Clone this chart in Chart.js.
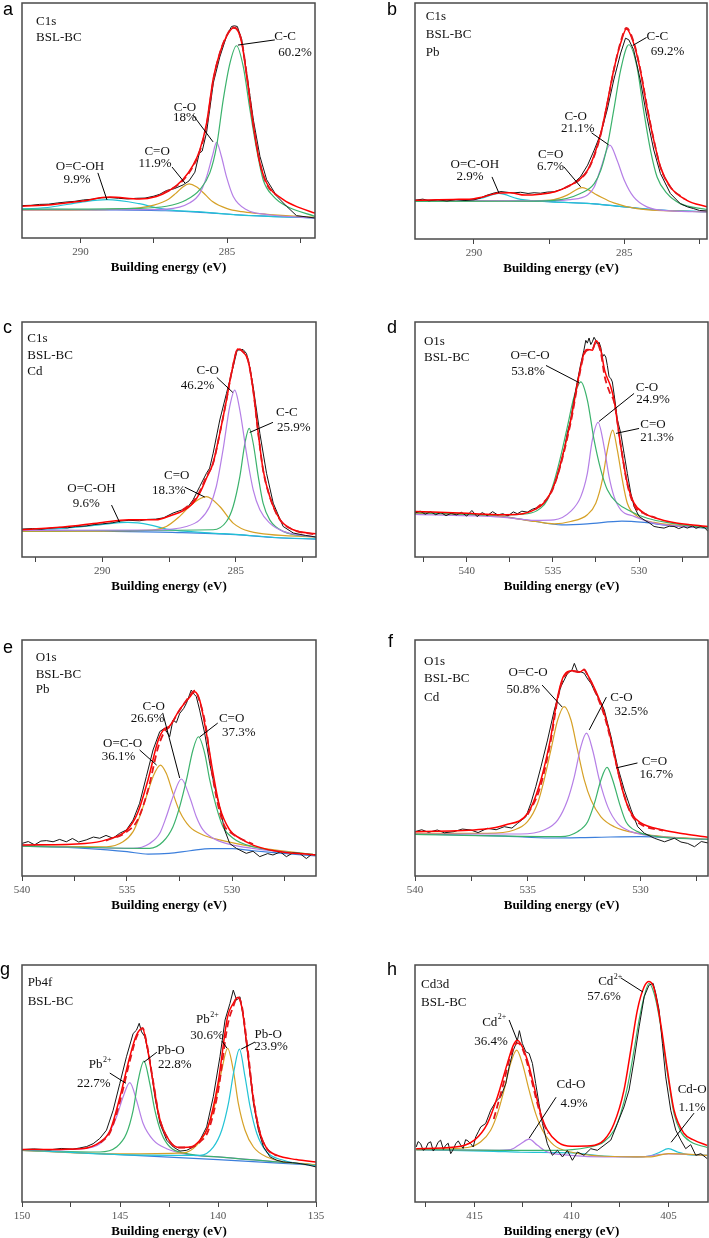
<!DOCTYPE html>
<html>
<head>
<meta charset="utf-8">
<script src="https://cdn.jsdelivr.net/npm/chart.js@4.4.1/dist/chart.umd.min.js"></script>
<style>
  html, body { margin: 0; padding: 0; background: #fff; overflow: hidden; }
  #page { position: relative; width: 709px; height: 1238px; overflow: hidden; }
  .cell { position: absolute; }
  .tag { position: absolute; font: 18px "Liberation Sans", Arial, sans-serif; line-height: 18px; color: #000; }
</style>
</head>
<body>
<div id="page"></div>
<script>
// ---------- data: [binding energy (eV), intensity (0 = frame bottom, 100 = frame top)] ----------

// a: C1s BSL-BC
const aTicks = [282.5, 285, 287.5, 290];
const aRaw = [[292,13.8],[291.7,13.9],[291.4,14.3],[291.1,14.4],[290.8,14.9],[290.5,15.3],[290.2,15.6],[289.9,16.2],[289.6,16.5],[289.3,17.1],[289.0,17.2],[288.7,16.9],[288.4,16.6],[288.1,16.9],[287.8,17.0],[287.5,17.8],[287.3,18.6],[287.07,20.2],[286.8,21.0],[286.5,22.6],[286.3,24.3],[286.1,28],[285.95,36],[285.85,37],[285.7,45],[285.47,66],[285.25,77],[285.02,85.8],[284.85,90],[284.75,90.3],[284.65,90],[284.5,84.4],[284.33,70],[284.1,50],[283.88,34.8],[283.65,24.8],[283.3,17.7],[282.97,13.5],[282.63,9.5],[282.3,9.0],[282,8.5]];
const aFit = [[292,13.5],[291,14.2],[290,15.6],[289,17.4],[288,16.6],[287.41,17.7],[287,19.9],[286.5,25],[286.16,31],[285.93,37.5],[285.7,48.9],[285.47,68],[285.25,78.7],[285.02,85.8],[284.79,89.4],[284.68,88.9],[284.5,83],[284.33,68.8],[284.1,47.5],[283.88,31.9],[283.65,23.4],[283.08,16.3],[282.51,12.8],[282,10.6]];
const aFitDash = [[287.2,19],[286.8,21.5],[286.5,24.6],[286.16,30.5],[285.93,37],[285.7,48],[285.47,67],[285.25,78.5],[285.02,86],[284.79,89.6],[284.68,89.2],[284.5,83.5],[284.33,69.5],[284.1,48],[283.88,32],[283.65,23],[283.3,18]];
const aCC = [[292,12.2],[288.2,12.6],[287.07,13.5],[286.38,16.3],[285.93,20.6],[285.59,27.7],[285.36,39],[285.13,59],[284.9,74.5],[284.68,81.8],[284.45,73],[284.22,54.6],[283.99,37.6],[283.77,24.8],[283.42,17.7],[282.97,13.5],[282,9.2]];
const aCO = [[292,12.0],[288,12.1],[287.07,12.3],[286.27,15],[285.93,19],[285.7,26],[285.5,35],[285.36,40.7],[285.2,35],[285.02,26],[284.79,17.7],[284.33,12],[283.65,10],[282,8.5]];
const aCeqO = [[292,11.8],[289,12.2],[288,12.8],[287.5,14.0],[287,16.5],[286.75,19.0],[286.5,21.8],[286.3,23.0],[286.05,21.8],[285.75,18.5],[285.5,15.5],[285,12.5],[284.5,11.2],[284,10.5],[283,9.5],[282,8.8]];
const aOCOH = [[292,12.3],[291,13.2],[290,15.2],[289.1,16.3],[288,14.6],[287.4,12.8],[287,12.0],[286,11.2],[285,10.2],[284,9.4],[282,8.6]];
const aBg = [[292,12.3],[289.5,12.0],[287.1,11.6],[286,11.0],[285.5,10.6],[284.7,9.9],[283.5,9.2],[282,8.5]];

// b: C1s BSL-BC Pb
const bTicks = [282.5, 285, 287.5, 290];
const bRaw = [[291.96,16.4],[291.7,16.9],[291.5,16.2],[291.2,16.6],[290.9,16.1],[290.6,16.7],[290.3,16.3],[290,16.6],[289.8,17.3],[289.6,18.4],[289.33,19.5],[289.1,20.1],[288.9,19.8],[288.7,19.5],[288.45,19.8],[288.2,19.3],[288,19.6],[287.79,19.4],[287.55,19.9],[287.34,20.0],[287.1,21.0],[286.9,22.1],[286.7,23.5],[286.46,26.3],[286.22,31.3],[286.0,37.7],[285.78,44.8],[285.57,54.7],[285.35,67.4],[285.12,78.8],[284.96,85.1],[284.85,84.4],[284.69,80.2],[284.47,67.4],[284.25,51.8],[284.02,37.7],[283.8,27.8],[283.47,19.3],[283.14,15.0],[282.9,13.6],[282.7,12.9],[282.5,12.1],[282.25,11.9]];
const bFit = [[292,16.4],[290.5,16.8],[290,17.1],[289.5,18.5],[289.2,19.5],[288.8,19.6],[288.3,18.6],[287.8,19.0],[287.3,20],[286.9,22.1],[286.46,25.6],[286.22,29.2],[286.0,35.6],[285.78,44.8],[285.57,57.5],[285.35,71.7],[285.12,83],[284.93,89],[284.69,83],[284.47,71.7],[284.25,56],[284.02,41.9],[283.8,30.6],[283.47,22.1],[282.92,16.4],[282.25,13.6]];
const bFitDash = [[287,21.5],[286.46,25.4],[286.22,29],[286,35.2],[285.78,44.5],[285.57,57],[285.35,71.5],[285.12,83.5],[284.93,89.5],[284.69,83.5],[284.47,72],[284.25,56.5],[284.02,42],[283.8,30.5],[283.47,22],[283,17]];
const bCC = [[292,15.9],[289,16.0],[287.34,16.4],[286.46,19.3],[286.0,23.5],[285.78,29.2],[285.57,39.1],[285.35,54.7],[285.12,71.7],[284.85,82.3],[284.58,73],[284.36,54.7],[284.13,37.7],[283.91,26.3],[283.58,19.3],[283.14,15],[282.25,12.5]];
const bCO = [[292,16.1],[287.5,16.3],[286.79,16.7],[286.22,18.6],[286.0,22],[285.78,30],[285.48,39.8],[285.24,33.4],[285.0,24.9],[284.69,17.8],[284.25,13.6],[283.47,11.9],[282.25,11.5]];
const bCeqO = [[292,16.0],[288,16.2],[287.34,16.7],[286.9,18.6],[286.4,21.8],[285.9,18.6],[285.35,15.3],[284.58,12.9],[282.25,11.5]];
const bOCOH = [[292,16.3],[290.33,16.4],[289.78,17.2],[289.17,19.3],[288.56,17.1],[288,16.1],[287,15.5],[286,14.9],[285,13.6],[284,12.4],[282.25,11.6]];
const bBg = [[292,16.4],[289,16.2],[287.3,15.7],[286,14.9],[285,13.6],[284,12.4],[283,11.8],[282.25,11.5]];

// c: C1s BSL-BC Cd
const cTicks = [282.5, 285, 287.5, 290, 292.5];
const cRaw = [[293,11.9],[292.6,12.1],[292.3,11.8],[292,12.2],[291.6,12.6],[291.3,12.4],[291,13],[290.6,13.2],[290.3,13.8],[290,14.1],[289.6,14.6],[289.3,15.3],[289,15.6],[288.6,15.4],[288.3,16.0],[288,16.1],[287.7,16.7],[287.35,18.7],[287,20.1],[286.8,21.2],[286.6,24.3],[286.35,30],[286.1,35.6],[285.98,37.8],[285.85,44.1],[285.6,58.3],[285.35,69.6],[285.1,80.9],[284.95,88],[284.73,88.3],[284.6,86.6],[284.48,80.9],[284.35,72.4],[284.1,52.6],[283.85,35.6],[283.6,22.9],[283.23,13],[282.85,10.2],[282.4,9.2],[282,8.5]];
const cFit = [[293,11.6],[292,12.3],[291,13.3],[290,14.7],[289,15.8],[288,15.8],[287.35,18],[287,19.5],[286.6,22.9],[286.35,27.2],[286.1,33.5],[285.85,40],[285.6,52.6],[285.35,66.8],[285.15,79],[284.93,88.5],[284.73,87.3],[284.54,83.5],[284.35,71],[284.16,52.6],[283.98,37.1],[283.73,25.7],[283.35,16],[282.85,11.6],[282,9.9]];
const cFitDash = [[287,20],[286.6,23.6],[286.35,27.9],[286.1,34.2],[285.85,39.9],[285.6,52.6],[285.35,66.8],[285.15,79],[284.91,88.7],[284.73,87.3],[284.54,83.7],[284.35,71],[284.16,52.6],[283.98,37.1],[283.73,25.7],[283.35,15.8],[282.85,11.6],[282,9.5]];
const cCO = [[293,11.3],[288.1,11.5],[286.85,13],[286.35,15.8],[285.98,21.5],[285.73,30],[285.48,45.5],[285.23,63.9],[285.04,71],[284.85,62.5],[284.6,44.1],[284.35,28.6],[284.1,20.1],[283.73,14.4],[283.23,10.9],[282,8.5]];
const cCC = [[293,11.2],[285.85,11.6],[285.35,15.1],[285.1,21.5],[284.85,34.2],[284.66,48.4],[284.5,54.7],[284.35,48.4],[284.16,34.2],[283.98,22.9],[283.73,15.8],[283.23,10.9],[282,8.5]];
const cCeqO = [[293,10.9],[288.35,11.3],[287.6,13],[287.1,17.3],[286.6,22.9],[286.1,25.7],[285.6,21.5],[285.1,14.4],[284.48,10.9],[282,8.5]];
const cOCOH = [[293,11.6],[291.35,12.3],[290.1,13.7],[289.04,14.7],[288.22,13.7],[287.6,11.9],[286,10.3],[285,9.6],[283.5,8.3],[282,7.7]];
const cBg = [[293,11.6],[290,11.0],[287,10.4],[285,9.5],[283.5,8.2],[282,7.6]];

// d: O1s BSL-BC
const dTicks = [527.5, 530, 532.5, 535, 537.5, 540, 542.5];
const dRaw = [[543,18.7],[542.7,19.5],[542.4,18.2],[542.1,19.3],[541.8,18.0],[541.5,18.9],[541.2,17.6],[540.9,18.6],[540.6,17.9],[540.3,19.0],[540,17.4],[539.7,19.8],[539.4,17.2],[539.1,18.9],[538.8,17.6],[538.5,19.3],[538.2,17.9],[537.9,18.4],[537.6,17.5],[537.3,19.2],[537.06,18.4],[536.8,19.5],[536.48,19.1],[536.2,20.3],[536,20.8],[535.71,21.6],[535.51,22.9],[535.32,24.8],[535.13,27.2],[534.93,30.5],[534.74,34.2],[534.55,39.5],[534.35,45.5],[534.16,52.8],[533.97,58.3],[533.68,71],[533.38,82.3],[533.2,88],[533.09,92.2],[533.0,91.0],[532.9,93.2],[532.8,90.4],[532.71,91.6],[532.61,93.5],[532.51,92.2],[532.42,90.6],[532.32,91.4],[532.22,89.2],[532.13,85.1],[532.03,86.2],[531.93,85.1],[531.84,81.5],[531.74,76.7],[531.64,76.0],[531.55,74.5],[531.45,69.3],[531.35,63.9],[531.26,58.5],[531.06,52.6],[530.87,44.1],[530.68,35.6],[530.48,27.2],[530.29,21.5],[530.0,17.3],[529.71,15.8],[529.4,14.5],[529.13,13],[528.85,12.6],[528.55,12.3],[528.25,13.1],[527.97,13],[527.7,12.1],[527.4,12.9],[527.2,12.3],[526.9,13.2],[526.7,12.2],[526.42,13],[526.2,12.5],[526,10.9]];
const dFit = [[543,19.4],[540,18.6],[538,18],[537,18.2],[536,20.4],[535.5,23.2],[535,29.3],[534.55,39.9],[534,56.9],[533.5,76.7],[533.2,86.6],[533,88.3],[532.71,88],[532.5,92],[532.22,88],[532,79.5],[531.64,72.4],[531.45,66.8],[531.06,47],[530.68,31.4],[530.29,22.9],[529.71,18.7],[529,16.5],[528,14.7],[527,13.7],[526,13]];
const dFitDash = [[536,20.4],[535,29],[534,56],[533.5,76],[533.2,86],[533,88],[532.7,88.5],[532.5,91.5],[532.22,87],[532,77],[531.7,70],[531.45,66],[531.06,47.5],[530.68,31],[530.29,22],[529.7,18.5],[529,16.6]];
const dOCO = [[543,18.9],[538,17.9],[536.48,18.4],[535.71,20.8],[535.32,24.3],[534.93,32.1],[534.55,42.7],[534.16,55.4],[533.77,68.2],[533.38,74.5],[533,66.8],[532.61,49.8],[532.22,37.1],[531.84,28.6],[531.26,22.9],[530.48,19.4],[529.52,16.5],[528.16,14.4],[526,12.3]];
const dCO = [[543,18.1],[538,17],[536,15.6],[534.93,15.8],[533.97,19.4],[533.38,25.7],[533,35.6],[532.71,49.8],[532.38,57.3],[532.03,47],[531.74,34.2],[531.45,25.7],[531.06,20.1],[530.29,17.3],[529.13,14.4],[526,12.3]];
const dCeqO = [[543,18.7],[538,17.2],[536,15.1],[534.93,14.1],[533.97,15.1],[533,18],[532.51,22.9],[532.13,32.8],[531.84,45.5],[531.53,54],[531.26,45.5],[530.97,32.8],[530.68,22.9],[530.1,17.3],[529.13,14.7],[526,12.6]];
const dBg = [[543,19],[538,17.3],[536,15.1],[534.5,13.7],[533,14.1],[531,15.3],[529.7,14.7],[528.2,13.3],[526,12.3]];

// e: O1s BSL-BC Pb
const eTicks = [527.5, 530, 532.5, 535, 537.5, 540];
const eRaw = [[540,13.8],[539.7,14.6],[539.4,13.2],[539.1,14.8],[538.84,15.0],[538.52,14.5],[538.21,15.5],[537.89,14.5],[537.6,15.9],[537.3,14.4],[536.94,15.3],[536.6,16.5],[536.3,16.0],[536.0,17.2],[535.67,16.0],[535.35,18.1],[535.03,19.5],[534.71,23.7],[534.4,30.8],[534.08,42.1],[533.76,53.4],[533.44,61.2],[533.21,62.6],[532.97,59],[532.81,66.1],[532.65,65],[532.49,68.9],[532.3,71],[532.17,73.2],[531.94,78.8],[531.8,77],[531.7,76],[531.54,70.3],[531.3,60.5],[531.06,47.7],[530.83,37.9],[530.59,29.4],[530.35,19.5],[530.11,13.8],[529.79,11.7],[529.32,9.6],[529,10.5],[528.68,8.2],[528.3,9.5],[528.05,8.9],[527.7,10.2],[527.41,8.2],[527.1,9.8],[526.78,9.6],[526.46,7.4],[526.2,9.2],[526,8.9]];
const eFit = [[540,13.1],[537,13.8],[536,15.3],[535,19.5],[534.5,26.6],[534,40.7],[533.51,57.6],[533.19,62.6],[533,63.3],[532.51,70.3],[532,76],[531.78,78.1],[531.54,74.6],[531.22,60.5],[530.9,43.5],[530.59,29.4],[530.11,19.5],[529.63,16],[529,13.1],[528,10.7],[526,8.9]];
const eFitDash = [[536,15],[535,18.8],[534.5,23.7],[534,36.4],[533.51,54.8],[533.19,61.5],[533,63],[532.51,70],[532,76.5],[531.78,78.5],[531.54,74],[531.22,62],[531.06,50.6],[530.75,33.6],[530.4,22],[530,18],[529,13.5]];
const eOCO = [[540,12.7],[535.98,12.4],[535.19,14.5],[534.71,18.8],[534.4,25.1],[534.08,33.6],[533.76,42.1],[533.41,47],[533.13,43.5],[532.81,35],[532.49,27.3],[532.02,20.9],[531.38,17.4],[530.59,15.3],[529,12.4],[526,8.9]];
const eCO = [[540,12.7],[534.71,11.7],[533.92,13.8],[533.44,18.1],[533.13,25.1],[532.81,33.6],[532.41,41.1],[532.02,33.6],[531.7,25.1],[531.38,19.5],[530.75,15.3],[529.95,13.1],[526,8.9]];
const eCeqO = [[540,12.7],[533.92,11.7],[533.29,14.5],[532.81,20.9],[532.49,29.4],[532.17,40.7],[531.86,53.4],[531.6,59],[531.3,52],[531.06,40.7],[530.75,29.4],[530.43,20.9],[529.95,16],[529,12.4],[526,8.9]];
const eBg = [[540,13.1],[537,11.7],[535,10.3],[534,9.3],[533,9.6],[532,10.7],[531,11.6],[530,11.6],[529,10.7],[528,9.9],[526,8.5]];

// f: O1s BSL-BC Cd
const fTicks = [527.5, 530, 532.5, 535, 537.5, 540];
const fRaw = [[540,18.8],[539.7,19.6],[539.4,18.5],[539.01,19.5],[538.7,18.3],[538.27,18.8],[537.9,19.9],[537.53,19.5],[537.2,18.4],[536.79,20.2],[536.4,19.6],[536.04,20.9],[535.7,20.3],[535.45,22.3],[535.08,25.1],[534.86,30.8],[534.64,37.9],[534.41,46.3],[534.12,57.6],[533.82,70.3],[533.53,80.2],[533.23,85.9],[533.05,87],[532.93,90.1],[532.79,86.6],[532.64,86.5],[532.49,85.9],[532.34,83.5],[532.19,81.6],[532.04,78.5],[531.9,76],[531.75,73.5],[531.6,70.3],[531.45,64.5],[531.3,59],[531.01,46.3],[530.71,36.4],[530.41,28],[530.12,20.9],[529.82,18.1],[529.38,16],[528.93,14.5],[528.49,16.0],[528.2,14.4],[527.9,13.8],[527.6,12.4],[527.3,14.6],[527,14.0]];
const fFit = [[540,18.8],[537,19.8],[536,21.6],[535,26.6],[534.5,37.9],[534,57.6],[533.67,76],[533.45,83.8],[533.23,86.6],[533,87],[532.71,86.3],[532.5,87.4],[532.34,85.2],[532,78.8],[531.6,68.9],[531.3,57.6],[531.01,44.9],[530.71,33.6],[530.41,26.6],[530,22.6],[529,19.5],[528,17.8],[527,16.4]];
const fFitDash = [[535,26],[534.5,36],[534,56],[533.67,75],[533.45,83],[533.23,86],[533,86.8],[532.71,86.5],[532.5,87.5],[532.34,85],[532,78],[531.6,68],[531.3,57],[531.01,45],[530.71,34],[530.4,26],[530,22],[529,19.2]];
const fOCO = [[540,18.1],[536.79,18.1],[535.6,19.5],[535.01,23],[534.56,30.8],[534.27,40.7],[533.97,53.4],[533.67,66.1],[533.38,71.8],[533.08,66.1],[532.79,53.4],[532.49,40.7],[532.19,32.2],[531.75,25.1],[531.16,20.9],[530.12,18.1],[527,15.5]];
const fCO = [[540,17.8],[535.3,17.8],[534.27,19.5],[533.67,23.7],[533.23,32.2],[532.93,42.1],[532.64,54.8],[532.39,60.5],[532.12,53.4],[531.82,40.7],[531.45,29.4],[531.01,22.3],[530.41,18.8],[529.38,16.9],[527,15.5]];
const fCeqO = [[540,17.6],[533.53,16.7],[532.79,18.8],[532.34,23],[532.04,30.8],[531.75,40.7],[531.48,46],[531.23,40.7],[530.93,30.8],[530.64,23],[530.12,18.8],[529.38,16.9],[527,15.5]];
const fBg = [[540,17.8],[536,16.9],[534,16.1],[532,16.4],[530,16.7],[527,15.5]];

// g: Pb4f BSL-BC
const gTicks = [135, 137.5, 140, 142.5, 145, 147.5, 150];
const gRaw = [[150,22.1],[149.4,22.4],[148.6,22.0],[148,22.6],[147.4,22.3],[147.05,22.8],[146.7,23.4],[146.37,24.6],[146.03,26.8],[145.69,30.3],[145.35,38.7],[145.01,50],[144.67,61.3],[144.33,71.1],[144.16,72.5],[144.02,75.4],[143.9,71.8],[143.73,69.7],[143.48,59.9],[143.22,44.4],[142.96,33.1],[142.62,26.1],[142.28,23.2],[141.94,21.5],[141.6,21.8],[141.26,23.2],[140.92,26.1],[140.58,31.7],[140.24,44.4],[139.9,61.3],[139.64,76.8],[139.39,83.8],[139.22,89.4],[139.05,85.2],[138.88,86.6],[138.71,78.2],[138.45,59.9],[138.19,41.5],[137.94,30.3],[137.68,23.2],[137.34,19],[137,17.6],[136.66,16.9],[136.2,16.6],[135.81,16.2],[135.4,15.6],[135,14.8]];
const gFit = [[150,22.1],[147,22.5],[146,25.4],[145.5,30.3],[145,44.4],[144.5,61.3],[144.16,70.4],[143.85,73.2],[143.65,66.9],[143.3,50],[143,35.9],[142.5,26.1],[142,23],[141.43,23.2],[140.92,26.1],[140.51,31.7],[140,50],[139.51,78.2],[139.22,83.8],[139,86.3],[138.79,82.4],[138.5,64.1],[138.19,43],[137.85,28.9],[137.51,22.5],[137,19.7],[136,17.9],[135,16.9]];
const gFitDash = [[146,25],[145.5,29.5],[145,42.5],[144.5,59.5],[144.16,69.5],[143.85,73.5],[143.65,67.5],[143.3,50.5],[143,36],[142.5,26],[142,23],[141.4,23],[140.9,25.5],[140.5,30],[140,46.5],[139.51,74.5],[139.22,82.5],[139,86.5],[138.79,83],[138.5,65.5],[138.19,43.5],[137.85,29],[137.5,22.5],[137,19.5]];
const gPb1 = [[150,21.8],[147.73,22.1],[146.37,23.2],[145.69,27.5],[145.18,35.9],[144.84,44.4],[144.5,50.4],[144.16,43],[143.82,33.1],[143.3,26.1],[142.62,22.5],[141.6,20.1],[140,19.0],[135,15.6]];
const gPbO1 = [[150,21.8],[146.03,21.1],[145.18,23.2],[144.67,28.9],[144.33,38.7],[144.07,51.4],[143.78,59.4],[143.48,50],[143.22,38.7],[142.88,28.9],[142.45,23.2],[141.6,20.4],[140,19],[135,15.6]];
const gPb2 = [[150,21.8],[145,20.3],[141.77,20.7],[141.09,23.9],[140.58,30.3],[140.15,41.5],[139.81,55.6],[139.51,64.8],[139.22,55.6],[138.96,41.5],[138.62,30.3],[138.19,23.2],[137.51,19],[135,15.6]];
const gPbO2 = [[150,22],[145,20],[140.92,19.7],[140.24,23.2],[139.81,30.3],[139.47,41.5],[139.18,55.6],[138.91,64.5],[138.62,52.8],[138.36,40.1],[138.02,28.9],[137.51,21.1],[136.66,17.6],[135,15.2]];
const gBg = [[150,21.8],[145,20],[140,17.9],[135,15.5]];

// h: Cd3d BSL-BC
const hTicks = [405, 407.5, 410, 412.5, 415, 417.5];
const hRaw = [[418,23.2],[417.9,25.5],[417.77,24.6],[417.64,21.8],[417.51,22.5],[417.38,24.9],[417.25,25.4],[417.12,21.5],[416.99,23.0],[416.87,25.2],[416.74,26.1],[416.6,22.2],[416.48,23.9],[416.35,24.8],[416.22,20.4],[416.1,22],[415.96,24.6],[415.83,25.8],[415.7,23.9],[415.58,22.6],[415.45,26.3],[415.32,25.7],[415.19,24.6],[415.06,23.2],[414.93,27.5],[414.8,29.6],[414.67,31.7],[414.42,33.1],[414.16,38.7],[413.9,42.3],[413.64,44.4],[413.38,50],[413.21,57],[412.99,64.1],[412.78,68.3],[412.68,72.3],[412.53,66.9],[412.35,63.4],[412.18,62.7],[412.01,58.5],[411.84,50],[411.67,41.5],[411.49,33.1],[411.24,24.6],[410.98,19.7],[410.72,21.8],[410.46,19],[410.21,21.8],[409.95,17.6],[409.69,21.1],[409.35,19.7],[409,22.5],[408.66,21.8],[408.32,23.9],[407.97,26.1],[407.63,33.1],[407.29,40.1],[407.03,47.2],[406.77,59.9],[406.51,73.9],[406.25,86.6],[406,91.5],[405.79,92.3],[405.65,88],[405.48,81],[405.31,66.9],[405.14,52.8],[404.88,38.7],[404.62,30.3],[404.36,26.1],[404.11,22.5],[403.85,24.2],[403.59,19.7],[403.33,20.4],[403,18.3]];
const hFit = [[418,22.5],[416,23.2],[415,26.1],[414.33,33.1],[413.81,44.4],[413.3,58.5],[412.99,66.2],[412.78,68.3],[412.53,65.5],[412.27,59.9],[411.92,48.6],[411.58,37.3],[411.24,30.3],[410.72,25.4],[410,23.5],[409,23.7],[408.32,26.1],[407.8,33.1],[407.29,47.2],[406.94,64.1],[406.6,81],[406.25,90.8],[406,93],[405.74,90.1],[405.4,75.4],[405.05,55.6],[404.71,38.7],[404.19,28.9],[403.68,26.1],[403,23.9]];
const hFitDash = [[414,35],[413.5,50],[413.2,60],[412.95,65.5],[412.78,67],[412.6,66],[412.4,62],[412.1,53],[411.8,43],[411.5,34.5],[411.2,29]];
const hCd1 = [[418,22.1],[415.36,23],[414.67,25.4],[414.16,30.3],[413.81,37.3],[413.47,47.2],[413.13,58.5],[412.82,64.1],[412.53,58.5],[412.18,47.2],[411.84,37.3],[411.49,30.3],[410.89,23.9],[410.03,21.1],[408.32,19.3],[406,19.0],[405,20.4],[403,19.7]];
const hCdO1 = [[418,22.1],[414,21.8],[413.13,22.1],[412.61,24.6],[412.18,26.5],[411.75,23.9],[411.24,21.1],[410.03,19.7],[408.3,19],[406.5,19],[405,20.3],[403,19.7]];
const hCd2 = [[418,22.1],[413.47,21.8],[410.89,21.8],[409.18,23],[408.32,25.4],[407.8,30.3],[407.46,37.3],[407.11,48.6],[406.77,64.1],[406.51,76.8],[406.25,86.6],[406,92.3],[405.74,88],[405.48,78.2],[405.22,64.1],[404.97,50],[404.71,37.3],[404.36,29.6],[403.85,25.4],[403,23]];
const hCdO2 = [[418,22.1],[414,21.4],[412.6,21],[410,20.7],[408.3,19.4],[406.6,19],[406,19.4],[405.5,20.8],[405,22.5],[404.5,21],[404,20],[403,19.7]];

// ---------- labels (text, position in eV / intensity units) ----------
const aNotes = [
  {t: 'C1s', x: 291.52, y: 91.9, al: 'left'}, {t: 'BSL-BC', x: 291.52, y: 85.1, al: 'left'},
  {t: 'C-C', x: 283.02, y: 85.5}, {t: '60.2%', x: 282.68, y: 79.1},
  {t: 'C-O', x: 286.44, y: 55.7}, {t: '18%', x: 286.44, y: 51.1},
  {t: 'C=O', x: 287.39, y: 36.6}, {t: '11.9%', x: 287.46, y: 31.5},
  {t: 'O=C-OH', x: 290.02, y: 30.6}, {t: '9.9%', x: 290.12, y: 24.7}
];
const aLeads = [[284.63, 82.1, 283.37, 84.3], [286.16, 52.3, 285.48, 40.9], [286.88, 30.2, 286.44, 23.4], [289.41, 27.7, 289.1, 16.2]];

const bNotes = [
  {t: 'C1s', x: 291.6, y: 94.3, al: 'left'}, {t: 'BSL-BC', x: 291.6, y: 86.7, al: 'left'}, {t: 'Pb', x: 291.6, y: 79, al: 'left'},
  {t: 'C-C', x: 283.9, y: 85.8}, {t: '69.2%', x: 283.56, y: 79.5},
  {t: 'C-O', x: 286.62, y: 51.8}, {t: '21.1%', x: 286.55, y: 46.7},
  {t: 'C=O', x: 287.45, y: 35.7}, {t: '6.7%', x: 287.45, y: 30.6},
  {t: 'O=C-OH', x: 289.97, y: 31.4}, {t: '2.9%', x: 290.13, y: 26.3}
];
const bLeads = [[284.72, 82, 284.26, 85.4], [286.09, 45, 285.52, 39.9], [287.01, 30.6, 286.45, 22.1], [289.4, 26.3, 289.17, 19.5]];

const cNotes = [
  {t: 'C1s', x: 292.8, y: 92.9, al: 'left'}, {t: 'BSL-BC', x: 292.8, y: 85.7, al: 'left'}, {t: 'Cd', x: 292.8, y: 78.9, al: 'left'},
  {t: 'C-O', x: 286.05, y: 79.3}, {t: '46.2%', x: 286.43, y: 73},
  {t: 'C-C', x: 283.09, y: 61.5}, {t: '25.9%', x: 282.83, y: 55.2},
  {t: 'C=O', x: 287.21, y: 34.8}, {t: '18.3%', x: 287.51, y: 28.4},
  {t: 'O=C-OH', x: 290.4, y: 29.3}, {t: '9.6%', x: 290.59, y: 22.9}
];
const cLeads = [[285.71, 76.4, 285.11, 70], [283.61, 57.3, 284.48, 53], [286.91, 29.7, 286.16, 25.5], [289.65, 22.1, 289.35, 14.8]];

const dNotes = [
  {t: 'O1s', x: 542.48, y: 91.6, al: 'left'}, {t: 'BSL-BC', x: 542.48, y: 84.9, al: 'left'},
  {t: 'O=C-O', x: 536.32, y: 85.7}, {t: '53.8%', x: 536.44, y: 78.9},
  {t: 'C-O', x: 529.54, y: 72.1}, {t: '24.9%', x: 529.19, y: 67},
  {t: 'C=O', x: 529.19, y: 56.4}, {t: '21.3%', x: 528.96, y: 50.9}
];
const dLeads = [[535.4, 81.5, 533.48, 74.2], [530.29, 69.6, 532.32, 57.7], [530.0, 54.7, 531.33, 52.6]];

const eNotes = [
  {t: 'O1s', x: 539.35, y: 92.4, al: 'left'}, {t: 'BSL-BC', x: 539.35, y: 85.2, al: 'left'}, {t: 'Pb', x: 539.35, y: 78.8, al: 'left'},
  {t: 'C-O', x: 533.73, y: 71.6}, {t: '26.6%', x: 534.02, y: 66.9},
  {t: 'C=O', x: 530.02, y: 66.9}, {t: '37.3%', x: 529.68, y: 60.6},
  {t: 'O=C-O', x: 535.21, y: 55.9}, {t: '36.1%', x: 535.4, y: 50.4}
];
const eLeads = [[533.3, 69.1, 532.49, 41.5], [530.68, 64.8, 531.54, 58.9], [534.4, 53.4, 533.59, 47]];

const fNotes = [
  {t: 'O1s', x: 539.6, y: 90.7, al: 'left'}, {t: 'BSL-BC', x: 539.6, y: 83.5, al: 'left'}, {t: 'Cd', x: 539.6, y: 75.8, al: 'left'},
  {t: 'O=C-O', x: 534.98, y: 86}, {t: '50.8%', x: 535.2, y: 79.2},
  {t: 'C-O', x: 530.84, y: 75.8}, {t: '32.5%', x: 530.4, y: 69.5},
  {t: 'C=O', x: 529.38, y: 48.3}, {t: '16.7%', x: 529.29, y: 42.8}
];
const fLeads = [[534.36, 80.9, 533.47, 71.6], [531.51, 75.8, 532.27, 61.9], [530.13, 47.9, 531.07, 45.8]];

const gNotes = [
  {t: 'Pb4f', x: 149.71, y: 92.4, al: 'left'}, {t: 'BSL-BC', x: 149.71, y: 84.4, al: 'left'},
  {t: 'Pb', s: '2+', x: 146.03, y: 57.8}, {t: '22.7%', x: 146.34, y: 50.1},
  {t: 'Pb-O', x: 142.4, y: 63.7}, {t: '22.8%', x: 142.2, y: 57.8},
  {t: 'Pb', s: '2+', x: 140.56, y: 76.8}, {t: '30.6%', x: 140.56, y: 70.4},
  {t: 'Pb-O', x: 137.44, y: 70.8}, {t: '23.9%', x: 137.29, y: 65.4}
];
const gLeads = [[145.52, 54.4, 144.7, 50.1], [143.12, 63.2, 143.78, 59], [139.8, 67.9, 139.54, 64.9], [138.11, 67.5, 138.82, 64.5]];

const hNotes = [
  {t: 'Cd3d', x: 417.75, y: 91.6, al: 'left'}, {t: 'BSL-BC', x: 417.75, y: 84, al: 'left'},
  {t: 'Cd', s: '2+', x: 408.01, y: 93}, {t: '57.6%', x: 408.32, y: 86.5},
  {t: 'Cd', s: '2+', x: 413.99, y: 75.9}, {t: '36.4%', x: 414.14, y: 67.5},
  {t: 'Cd-O', x: 410.02, y: 49.7}, {t: '4.9%', x: 409.86, y: 41.7},
  {t: 'Cd-O', x: 403.78, y: 47.6}, {t: '1.1%', x: 403.78, y: 40}
];
const hLeads = [[407.44, 94.5, 406.31, 88.6], [413.21, 76.8, 412.8, 68.3], [410.79, 44.2, 412.18, 26.9], [403.68, 37.5, 404.86, 25.2]];

// ---------- styling ----------
const RED = '#ff0000', DASH = '#e3161b', BLACK = '#151515';
const GREEN = '#3bb26c', PURPLE = '#b57fe6', ORANGE = '#d6a127', CYAN = '#22c3d5', BLUE = '#3c7fdc';
const SERIF = '"Liberation Serif", "Times New Roman", serif';

function fits(raw, fit, dash) {
  return [[dash, DASH, 1.8, [7, 4], true], [fit, RED, 1.5, null, true], [raw, BLACK, 1, null, false]];
}

const panels = [
  {tag: 'a', tagPos: [3, 0], box: [22, 3, 293, 235], hi: 292, lo: 282, ticks: aTicks, notes: aNotes, leads: aLeads,
   series: fits(aRaw, aFit, aFitDash).concat([[aCC, GREEN], [aCO, PURPLE], [aCeqO, ORANGE], [aOCOH, CYAN], [aBg, BLUE]])},
  {tag: 'b', tagPos: [387, 0], box: [415, 3, 292, 236], hi: 291.96, lo: 282.25, ticks: bTicks, notes: bNotes, leads: bLeads,
   series: fits(bRaw, bFit, bFitDash).concat([[bCC, GREEN], [bCO, PURPLE], [bCeqO, ORANGE], [bOCOH, CYAN], [bBg, BLUE]])},
  {tag: 'c', tagPos: [3, 318], box: [22, 322, 294, 235], hi: 293, lo: 282, ticks: cTicks, notes: cNotes, leads: cLeads,
   series: fits(cRaw, cFit, cFitDash).concat([[cCO, PURPLE], [cCC, GREEN], [cCeqO, ORANGE], [cOCOH, CYAN], [cBg, BLUE]])},
  {tag: 'd', tagPos: [387, 318], box: [415, 322, 293, 235], hi: 543, lo: 526, ticks: dTicks, notes: dNotes, leads: dLeads,
   series: fits(dRaw, dFit, dFitDash).concat([[dOCO, GREEN], [dCO, PURPLE], [dCeqO, ORANGE], [dBg, BLUE]])},
  {tag: 'e', tagPos: [3, 638], box: [22, 640, 294, 236], hi: 540, lo: 526, ticks: eTicks, notes: eNotes, leads: eLeads,
   series: fits(eRaw, eFit, eFitDash).concat([[eCeqO, GREEN], [eCO, PURPLE], [eOCO, ORANGE], [eBg, BLUE]])},
  {tag: 'f', tagPos: [388, 632], box: [415, 640, 293, 236], hi: 540, lo: 527, ticks: fTicks, notes: fNotes, leads: fLeads,
   series: fits(fRaw, fFit, fFitDash).concat([[fCeqO, GREEN], [fCO, PURPLE], [fOCO, ORANGE], [fBg, BLUE]])},
  {tag: 'g', tagPos: [0, 960], box: [22, 965, 294, 237], hi: 150, lo: 135, ticks: gTicks, notes: gNotes, leads: gLeads,
   series: fits(gRaw, gFit, gFitDash).concat([[gPbO2, CYAN], [gPb2, ORANGE], [gPbO1, GREEN], [gPb1, PURPLE], [gBg, BLUE]])},
  {tag: 'h', tagPos: [387, 960], box: [415, 965, 293, 237], hi: 418.06, lo: 402.96, ticks: hTicks, notes: hNotes, leads: hLeads,
   series: fits(hRaw, hFit, hFitDash).concat([[hCd2, GREEN], [hCd1, ORANGE], [hCdO1, PURPLE], [hCdO2, CYAN]])}
];

// frame around the plot area
const framePlugin = {
  id: 'frame',
  afterDraw(chart) {
    const a = chart.chartArea, ctx = chart.ctx;
    ctx.save();
    ctx.strokeStyle = '#4a4a4a';
    ctx.lineWidth = 1.5;
    ctx.strokeRect(a.left, a.top, a.right - a.left, a.bottom - a.top);
    ctx.restore();
  }
};

// peak labels and leader lines
const notesPlugin = {
  id: 'notes',
  afterDatasetsDraw(chart, args, opts) {
    const ctx = chart.ctx, sx = chart.scales.x, sy = chart.scales.y;
    ctx.save();
    ctx.strokeStyle = '#000';
    ctx.lineWidth = 1;
    opts.leads.forEach(l => {
      ctx.beginPath();
      ctx.moveTo(sx.getPixelForValue(l[0]), sy.getPixelForValue(l[1]));
      ctx.lineTo(sx.getPixelForValue(l[2]), sy.getPixelForValue(l[3]));
      ctx.stroke();
    });
    ctx.fillStyle = '#111';
    ctx.textBaseline = 'middle';
    opts.notes.forEach(n => {
      const px = sx.getPixelForValue(n.x), py = sy.getPixelForValue(n.y);
      ctx.font = '13px ' + SERIF;
      const w1 = ctx.measureText(n.t).width;
      let w2 = 0;
      if (n.s) { ctx.font = '8px ' + SERIF; w2 = ctx.measureText(n.s).width; }
      const x0 = n.al === 'left' ? px : px - (w1 + w2) / 2;
      ctx.textAlign = 'left';
      ctx.font = '13px ' + SERIF;
      ctx.fillText(n.t, x0, py);
      if (n.s) {
        ctx.font = '8px ' + SERIF;
        ctx.fillText(n.s, x0 + w1 + 0.5, py - 5);
      }
    });
    ctx.restore();
  }
};

const page = document.getElementById('page');
const padL = 14, padR = 14, padT = 3, axisH = 38;

panels.forEach(p => {
  const tag = document.createElement('div');
  tag.className = 'tag';
  tag.textContent = p.tag;
  tag.style.left = p.tagPos[0] + 'px';
  tag.style.top = p.tagPos[1] + 'px';

  const cell = document.createElement('div');
  cell.className = 'cell';
  const w = p.box[2] + padL + padR, h = p.box[3] + padT + axisH;
  cell.style.left = (p.box[0] - padL) + 'px';
  cell.style.top = (p.box[1] - padT) + 'px';
  cell.style.width = w + 'px';
  cell.style.height = h + 'px';
  const cv = document.createElement('canvas');
  cv.width = w; cv.height = h;
  cv.style.width = w + 'px'; cv.style.height = h + 'px';
  cell.appendChild(cv);
  page.appendChild(cell);
  page.appendChild(tag);

  const datasets = p.series.map(s => ({
    data: s[0].map(q => ({x: q[0], y: q[1]})),
    borderColor: s[1],
    borderWidth: s[2] || 1.2,
    borderDash: s[3] || [],
    cubicInterpolationMode: s.length > 4 && !s[4] ? 'default' : 'monotone',
    tension: 0,
    pointRadius: 0,
    fill: false
  }));

  new Chart(cv, {
    type: 'line',
    data: {datasets},
    plugins: [framePlugin, notesPlugin],
    options: {
      responsive: false,
      animation: false,
      layout: {padding: {left: padL, right: padR, top: padT, bottom: 0}},
      plugins: {
        legend: {display: false},
        tooltip: {enabled: false},
        notes: {notes: p.notes, leads: p.leads}
      },
      scales: {
        x: {
          type: 'linear',
          reverse: true,
          min: p.lo,
          max: p.hi,
          afterBuildTicks: s => { s.ticks = p.ticks.map(v => ({value: v})); },
          afterFit: s => { s.height = axisH; },
          border: {display: false},
          grid: {display: true, drawOnChartArea: false, drawTicks: true, tickLength: 5, color: '#444', lineWidth: 1},
          ticks: {
            autoSkip: false,
            maxRotation: 0,
            padding: 3,
            color: '#555',
            font: {family: SERIF, size: 11},
            callback: v => (v % 5 === 0 ? String(v) : '')
          },
          title: {
            display: true,
            text: 'Building energy (eV)',
            color: '#000',
            font: {family: SERIF, size: 13, weight: 'bold'},
            padding: {top: 0, bottom: 1}
          }
        },
        y: {display: false, min: 0, max: 100}
      }
    }
  });
});
</script>
</body>
</html>
